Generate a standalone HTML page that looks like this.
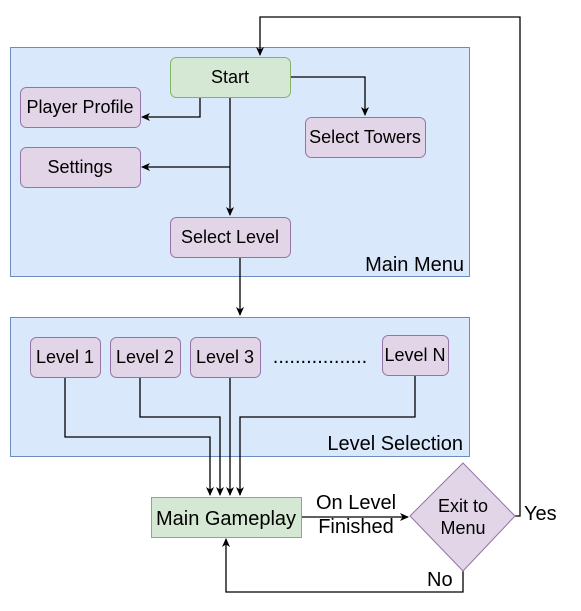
<!DOCTYPE html>
<html><head><style>body{margin:0;background:#fff}svg{display:block}</style></head><body>
<svg width="581" height="611" viewBox="0 0 581 611" xmlns="http://www.w3.org/2000/svg" font-family="Liberation Sans, sans-serif">
<defs><marker id="a" markerWidth="10" markerHeight="10" refX="8" refY="5" orient="auto" markerUnits="userSpaceOnUse"><path d="M0,1 L9,5 L0,9 L2.5,5 Z" fill="#000"/></marker></defs>
<rect x="10.5" y="47.5" width="459" height="229" fill="#dae8fc" stroke="#6c8ebf"/>
<rect x="10.5" y="317.5" width="459" height="139" fill="#dae8fc" stroke="#6c8ebf"/>
<g font-size="20" fill="#000"><text x="464" y="271" text-anchor="end">Main Menu</text><text x="463" y="450" text-anchor="end">Level Selection</text></g>
<g stroke="#000" stroke-width="1.3" fill="none" marker-end="url(#a)">
<path d="M200 97 V117 H142"/>
<path d="M230 97 V215"/>
<path d="M230 167 H142"/>
<path d="M290 77 H365 V115"/>
<path d="M240 257 V315"/>
<path d="M65 377 V437 H210 V495"/>
<path d="M140 377 V417 H220 V495"/>
<path d="M230 377 V495"/>
<path d="M415 375 V417 H240 V495"/>
<path d="M301 517 H408"/>
<path d="M515 516 H520 V17 H260 V55"/>
<path d="M463 571 V592 H226 V539"/>
</g>
<g stroke-width="1">
<rect x="170.5" y="57.5" width="120" height="40" rx="6" fill="#d5e8d4" stroke="#82b366"/>
<rect x="20.5" y="87.5" width="120" height="40" rx="6" fill="#e1d5e7" stroke="#9673a6"/>
<rect x="20.5" y="147.5" width="120" height="40" rx="6" fill="#e1d5e7" stroke="#9673a6"/>
<rect x="305.5" y="117.5" width="120" height="40" rx="6" fill="#e1d5e7" stroke="#9673a6"/>
<rect x="170.5" y="217.5" width="120" height="40" rx="6" fill="#e1d5e7" stroke="#9673a6"/>
<rect x="30.5" y="337.5" width="70" height="40" rx="6" fill="#e1d5e7" stroke="#9673a6"/>
<rect x="110.5" y="337.5" width="70" height="40" rx="6" fill="#e1d5e7" stroke="#9673a6"/>
<rect x="190.5" y="337.5" width="70" height="40" rx="6" fill="#e1d5e7" stroke="#9673a6"/>
<rect x="382.5" y="335.5" width="66" height="40" rx="6" fill="#e1d5e7" stroke="#9673a6"/>
<rect x="151.5" y="497.5" width="150" height="40" fill="#d5e8d4" stroke="#82b366"/>
<path d="M463 463 L515 516 L463 571 L410 516 Z" fill="#e1d5e7" stroke="#9673a6"/>
</g>
<g font-size="18" text-anchor="middle" fill="#000">
<text x="230" y="83">Start</text>
<text x="80" y="113">Player Profile</text>
<text x="80" y="173">Settings</text>
<text x="365" y="143">Select Towers</text>
<text x="230" y="243">Select Level</text>
<text x="65" y="363">Level 1</text>
<text x="145" y="363">Level 2</text>
<text x="225" y="363">Level 3</text>
<text x="415" y="361">Level N</text>
<text x="320" y="363" font-size="20">.................</text>
<text x="463" y="512">Exit to</text>
<text x="463" y="534">Menu</text>
</g>
<g font-size="20" fill="#000">
<text x="226" y="525" text-anchor="middle">Main Gameplay</text>
<text x="356" y="509" text-anchor="middle">On Level</text>
<text x="356" y="533" text-anchor="middle">Finished</text>
<text x="524" y="520">Yes</text>
<text x="427" y="586">No</text>
</g>
</svg>
</body></html>
